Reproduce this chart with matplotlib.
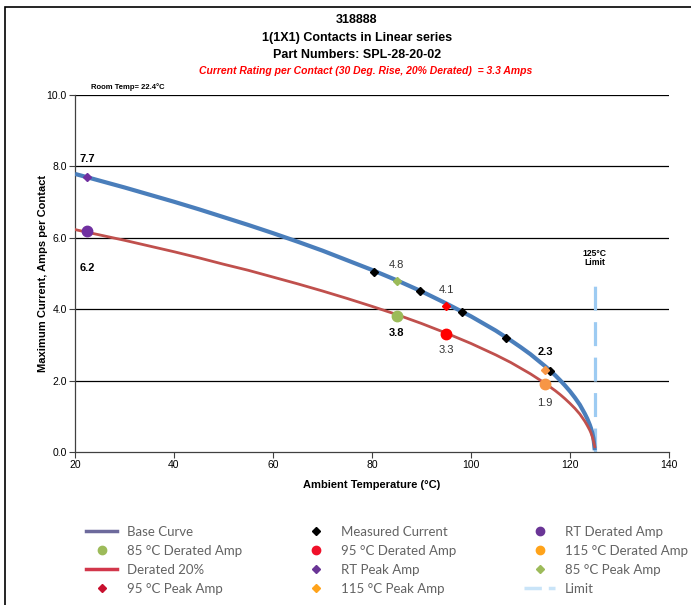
import matplotlib
matplotlib.use("Agg")
import matplotlib.pyplot as plt
from matplotlib.lines import Line2D
from matplotlib.patches import Rectangle

plt.rcParams['font.family'] = ['Liberation Sans', 'DejaVu Sans']

# ---- data ----
temps = [20, 25, 30, 35, 40, 45, 50, 55, 60, 65, 70, 75, 80, 85, 90, 95,
         100, 105, 108, 110, 112, 115, 116, 117, 118, 119, 120, 121, 122, 123,
         123.5, 124, 124.25, 124.5, 124.75, 125]
base_curve = [7.79, 7.60, 7.41, 7.21, 7.01, 6.80, 6.58, 6.36, 6.13, 5.89, 5.64,
              5.37, 5.10, 4.81, 4.50, 4.16, 3.80, 3.40, 3.13, 2.94, 2.74, 2.40,
              2.28, 2.15, 2.01, 1.86, 1.70, 1.52, 1.32, 1.07, 0.93, 0.76, 0.66,
              0.54, 0.38, 0.05]
derated_curve = [6.23, 6.08, 5.93, 5.77, 5.61, 5.44, 5.26, 5.09, 4.90, 4.71, 4.51,
                 4.30, 4.08, 3.85, 3.60, 3.33, 3.04, 2.72, 2.51, 2.35, 2.19, 1.92,
                 1.82, 1.72, 1.61, 1.49, 1.36, 1.22, 1.06, 0.86, 0.74, 0.61, 0.53,
                 0.43, 0.30, 0.15]

measured_t = [80.5, 89.7, 98.2, 107.0, 115.9]
measured_i = [5.04, 4.50, 3.91, 3.19, 2.26]

point_temps = [22.4, 85, 95, 115]
peak_amps = [7.7, 4.8, 4.1, 2.3]
derated_amps = [6.2, 3.8, 3.3, 1.9]

limit_temp = 125
limit_top = 4.8

x_ticks = [20, 40, 60, 80, 100, 120, 140]
y_ticks = [0, 2, 4, 6, 8, 10]

# ---- figure ----
fig = plt.figure(figsize=(6.91, 6.05), dpi=100)
ax = fig.add_axes([75/691, 1-452/605, (669-75)/691, (452-95)/605])

# outer frame (only top & left visible in reference)
fig.add_artist(Rectangle((5/691, -0.1), 1.2, (1-7/605)+0.1, transform=fig.transFigure,
                         fill=False, ec='black', lw=1.2))

ax.set_xlim(20, 140)
ax.set_ylim(0, 10)
ax.set_xticks(x_ticks)
ax.set_xticklabels([str(t) for t in x_ticks])
ax.set_yticks(y_ticks)
ax.set_yticklabels([f"{v:.1f}" for v in y_ticks])
ax.tick_params(axis='both', labelsize=7.5, length=4, width=0.8, color='#404040',
               direction='out', pad=2)
for s in ['top', 'right']:
    ax.spines[s].set_visible(False)
for s in ['left', 'bottom']:
    ax.spines[s].set_color('#404040')
    ax.spines[s].set_linewidth(0.9)
for y in y_ticks[1:]:
    ax.axhline(y, color='black', lw=0.9, zorder=1)

blue = '#4a7ebb'
red = '#c0504d'
purple = '#7030a0'
green = '#9bbb59'
red_pt = '#ff0000'
orange = '#f79646'
limit_c = '#9dcbf2'

ax.plot(temps, base_curve, color=blue, lw=3.0, zorder=3, solid_capstyle='butt')
ax.plot(temps, derated_curve, color=red, lw=2.0, zorder=3)
ax.plot([limit_temp, limit_temp], [0, limit_top], color=limit_c, lw=2.3,
        dashes=(7.5, 3.6), zorder=2)

ax.plot(measured_t, measured_i, ls='none', marker='D', ms=4, color='black', zorder=5)

peak_cols = [purple, green, red_pt, orange]
der_cols = [purple, green, red_pt, orange]
for t, p, d, pc, dc in zip(point_temps, peak_amps, derated_amps, peak_cols, der_cols):
    ax.plot([t], [p], marker='D', ms=4.5, color=pc, ls='none', zorder=6)
    ax.plot([t], [d], marker='o', ms=7.5, color=dc, ls='none', zorder=6)

# value labels
lab_kw = dict(ha='center', va='center', fontsize=8)
ax.text(22.4, 8.2, "7.7", fontweight='bold', **lab_kw)
ax.text(22.4, 5.15, "6.2", fontweight='bold', **lab_kw)
ax.text(85, 5.24, "4.8", color='#333333', **lab_kw)
ax.text(95, 4.54, "4.1", color='#333333', **lab_kw)
ax.text(85, 3.33, "3.8", fontweight='bold', **lab_kw)
ax.text(95, 2.86, "3.3", color='#333333', **lab_kw)
ax.text(115, 2.8, "2.3", fontweight='bold', **lab_kw)
ax.text(115, 1.37, "1.9", color='#333333', **lab_kw)
ax.text(125, 5.43, "125°C\nLimit", ha='center', va='center', fontsize=6.2,
        fontweight='bold', linespacing=1.05)

ax.set_xlabel("Ambient Temperature (°C)", fontsize=8, fontweight='bold', labelpad=7)
ax.set_ylabel("Maximum Current, Amps per Contact", fontsize=8, fontweight='bold', labelpad=-1)

# titles
tx = 357/691
fig.text(tx, 1-20/605, "318888", ha='center', va='center', fontsize=9, fontweight='bold')
fig.text(tx, 1-38/605, "1(1X1) Contacts in Linear series", ha='center', va='center',
         fontsize=9, fontweight='bold')
fig.text(tx, 1-55/605, "Part Numbers: SPL-28-20-02", ha='center', va='center',
         fontsize=9, fontweight='bold')
fig.text(366/691, 1-71/605, "Current Rating per Contact (30 Deg. Rise, 20% Derated)  = 3.3 Amps",
         ha='center', va='center', fontsize=7.5, fontweight='bold', style='italic', color='#ff0000')
fig.text(91/691, 1-87/605, "Room Temp= 22.4°C", ha='left', va='center', fontsize=5.5,
         fontweight='bold')

# legend (proxy handles), one legend per column for exact placement
lg_cols = {
    'base': '#6d6a9c', 'der': '#d2374b', 'purple': '#6a3596', 'green': '#9dbb5a',
    'red': '#f0102a', 'orange': '#ffa31a', 'crimson': '#c8102e', 'limit': '#c9e4f8'}
H = {}
H["Base Curve"] = Line2D([], [], color=lg_cols['base'], lw=2.5)
H["Measured Current"] = Line2D([], [], ls='none', marker='D', ms=4, color='black')
H["RT Derated Amp"] = Line2D([], [], ls='none', marker='o', ms=6, color=lg_cols['purple'])
H["85 °C Derated Amp"] = Line2D([], [], ls='none', marker='o', ms=6, color=lg_cols['green'])
H["95 °C Derated Amp"] = Line2D([], [], ls='none', marker='o', ms=6, color=lg_cols['red'])
H["115 °C Derated Amp"] = Line2D([], [], ls='none', marker='o', ms=6, color=lg_cols['orange'])
H["Derated 20%"] = Line2D([], [], color=lg_cols['der'], lw=2.5)
H["RT Peak Amp"] = Line2D([], [], ls='none', marker='D', ms=4, color=lg_cols['purple'])
H["85 °C Peak Amp"] = Line2D([], [], ls='none', marker='D', ms=4, color=lg_cols['green'])
H["95 °C Peak Amp"] = Line2D([], [], ls='none', marker='D', ms=4, color=lg_cols['crimson'])
H["115 °C Peak Amp"] = Line2D([], [], ls='none', marker='D', ms=4, color=lg_cols['orange'])
H["Limit"] = Line2D([], [], color=lg_cols['limit'], lw=2.5, dashes=(5, 2))

legend_columns = [["Base Curve", "85 °C Derated Amp", "Derated 20%", "95 °C Peak Amp"],
                  ["Measured Current", "95 °C Derated Amp", "RT Peak Amp", "115 °C Peak Amp"],
                  ["RT Derated Amp", "115 °C Derated Amp", "85 °C Peak Amp", "Limit"]]
col_x = [86, 300, 524]
for names, cx in zip(legend_columns, col_x):
    leg = fig.legend([H[k] for k in names], names, ncol=1, loc='upper left',
                     bbox_to_anchor=(cx/691, 1-526/605), frameon=False,
                     prop={'family': 'Lato', 'size': 9.5},
                     labelcolor='#636363',
                     handlelength=2.35, handletextpad=0.75,
                     labelspacing=0.53, borderpad=0, borderaxespad=0)

fig.savefig("out.png", dpi=100)
